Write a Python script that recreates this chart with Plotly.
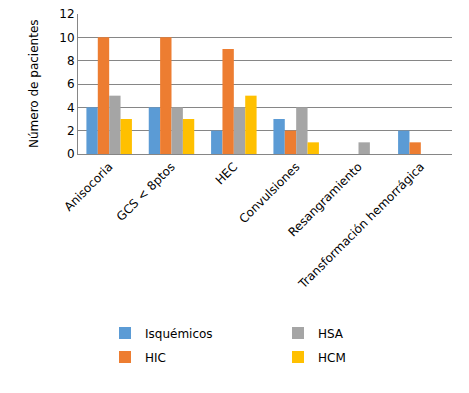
import plotly.graph_objects as go

categories = ["Anisocoria", "GCS < 8ptos", "HEC", "Convulsiones", "Resangramiento", "Transformación hemorrágica"]
isquemicos = [4, 4, 2, 3, 0, 2]
hic = [10, 10, 9, 2, 0, 1]
hsa = [5, 4, 4, 4, 1, 0]
hcm = [3, 3, 5, 1, 0, 0]
y_ticks = [0, 2, 4, 6, 8, 10, 12]

series = [
    ("Isquémicos", isquemicos, "#5B9BD5", "legend"),
    ("HIC", hic, "#ED7D31", "legend2"),
    ("HSA", hsa, "#A5A5A5", "legend3"),
    ("HCM", hcm, "#FFC000", "legend4"),
]

fig = go.Figure()
for name, vals, color, lg in series:
    fig.add_trace(go.Bar(name=name, x=categories, y=vals, marker_color=color,
                         marker_line_width=0, legend=lg))

font = dict(family="DejaVu Sans, Verdana, sans-serif", size=11, color="#404040")
def leg(x, y):
    return dict(x=x, y=y, xref="container", yref="container", xanchor="left", yanchor="middle",
                font=dict(family="DejaVu Sans, Verdana, sans-serif", size=12, color="#000000"),
                bgcolor="rgba(0,0,0,0)", itemwidth=30)

fig.update_layout(
    width=469, height=393,
    margin=dict(l=70, r=25, t=6, b=247, autoexpand=False),
    plot_bgcolor="white", paper_bgcolor="white",
    font=font,
    bargap=0.27, bargroupgap=0,
    showlegend=True,
    legend=leg(97/469, 1-325/393),
    legend2=leg(97/469, 1-349/393),
    legend3=leg(270/469, 1-325/393),
    legend4=leg(270/469, 1-349/393),
    xaxis=dict(tickangle=-45, showline=True, linecolor="#868686", linewidth=1, automargin=False,
               ticks="", tickfont=dict(size=12, color="#000000"), ticklabeloverflow="allow"),
    yaxis=dict(range=[0, 12], tickvals=y_ticks, showgrid=True, gridcolor="#868686", gridwidth=1,
               showline=True, linecolor="#868686", zeroline=False, ticks="", automargin=False,
               tickfont=dict(size=12, color="#000000"), ticklabeloverflow="allow"),
    annotations=[dict(text="Número de pacientes", xref="paper", yref="paper", x=0, y=0.5,
                      xanchor="center", yanchor="middle", xshift=-44, textangle=-90, showarrow=False,
                      font=dict(family="DejaVu Sans, Verdana, sans-serif", size=12, color="#000000"))],
)

fig.write_html("out.html")
